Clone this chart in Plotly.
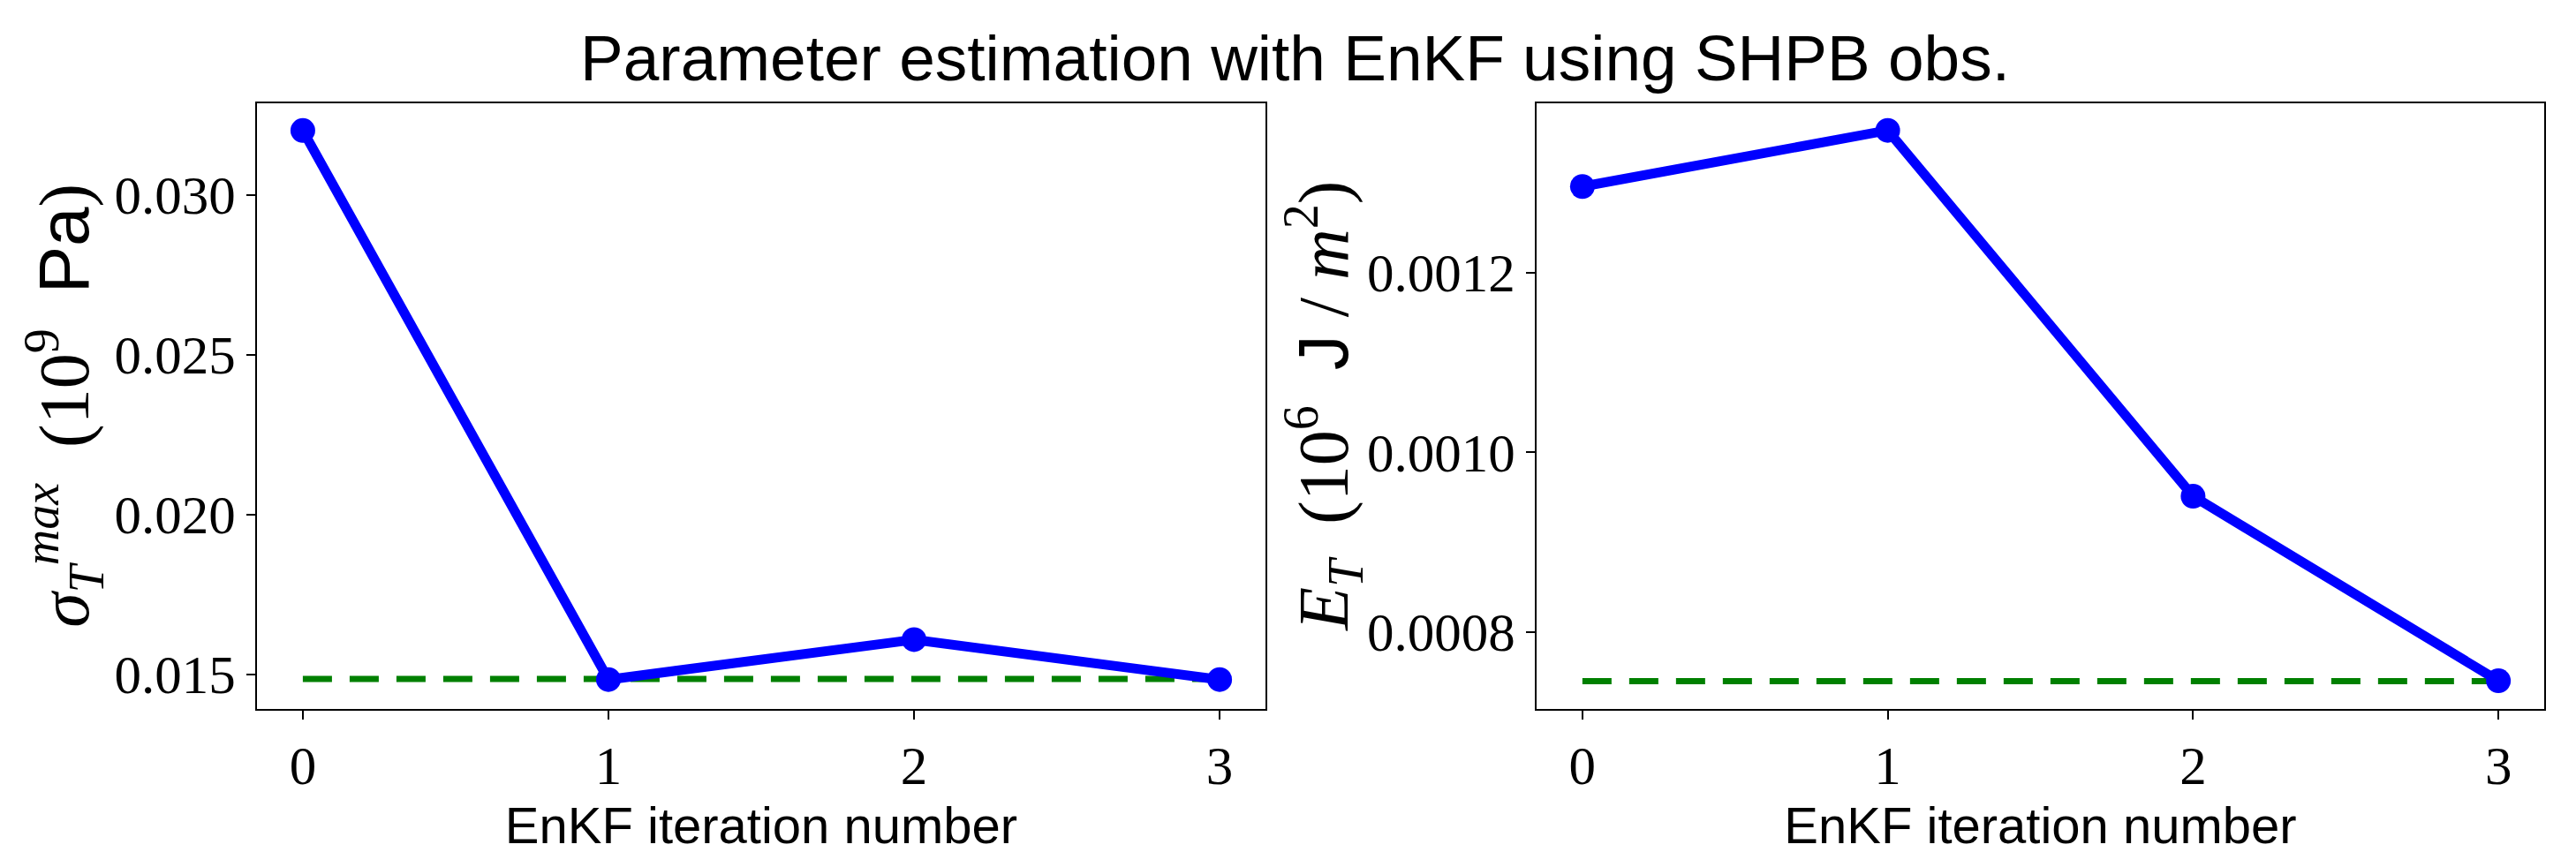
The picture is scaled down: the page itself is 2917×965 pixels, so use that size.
import plotly.graph_objects as go

iterations = [0, 1, 2, 3]
sigma_est = [0.03202, 0.01484, 0.01609, 0.01484]
sigma_true = [0.01486, 0.01486, 0.01486, 0.01486]
et_est = [0.001296, 0.0013585, 0.000951, 0.0007454]
et_true = [0.000745, 0.000745, 0.000745, 0.000745]

sigma_ticks = [0.015, 0.020, 0.025, 0.030]
et_ticks = [0.0008, 0.0010, 0.0012]
x_ticks = [0, 1, 2, 3]

W, H = 2917, 965
BLUE = "#0000ff"
GREEN = "#008000"
SERIF = "Liberation Serif, DejaVu Serif, serif"
SANS = "Liberation Sans, Arial, sans-serif"

fig = go.Figure()

def add_panel(xa, ya, est, true):
    fig.add_trace(go.Scatter(x=iterations, y=true, mode="lines", xaxis=xa, yaxis=ya,
                             line=dict(color=GREEN, width=7, dash="33px,20px"),
                             showlegend=False, hoverinfo="skip"))
    fig.add_trace(go.Scatter(x=iterations, y=est, mode="lines+markers", xaxis=xa, yaxis=ya,
                             line=dict(color=BLUE, width=11),
                             marker=dict(color=BLUE, size=28),
                             showlegend=False))

add_panel("x", "y", sigma_est, sigma_true)
add_panel("x2", "y2", et_est, et_true)

ydom = [1 - 795 / H, 1 - 108.7 / H]
axis_common = dict(showline=True, linecolor="black", linewidth=2, mirror=True,
                   ticks="outside", ticklen=10, tickwidth=2, tickcolor="black",
                   showgrid=False, zeroline=False,
                   tickfont=dict(family=SERIF, size=61, color="black"))

xtitle = dict(text="EnKF iteration number", font=dict(family=SANS, size=58, color="black"),
              standoff=14)

fig.update_layout(
    width=W, height=H,
    margin=dict(l=0, r=0, t=0, b=0),
    paper_bgcolor="white", plot_bgcolor="white",
    title=dict(text="Parameter estimation with EnKF using SHPB obs.",
               font=dict(family=SANS, size=73, color="black"),
               x=0.5, xanchor="center", xref="paper",
               y=1 - 57 / H, yanchor="middle", yref="container"),
    xaxis=dict(domain=[283 / W, 1425 / W], range=[-0.15, 3.15], tickvals=x_ticks,
               title=xtitle, anchor="y", **axis_common),
    yaxis=dict(domain=ydom, range=[0.01392, 0.03288], tickvals=sigma_ticks,
               tickformat=".3f", anchor="x", **axis_common),
    xaxis2=dict(domain=[1732 / W, 2873 / W], range=[-0.15, 3.15], tickvals=x_ticks,
                title=xtitle, anchor="y2", **axis_common),
    yaxis2=dict(domain=ydom, range=[0.000714, 0.001389], tickvals=et_ticks,
                tickformat=".4f", anchor="x2", **axis_common),
)

ymid = (ydom[0] + ydom[1]) / 2
fig.add_annotation(
    text=("<i>σ</i><sub><i>T</i></sub><sup><i>max</i></sup>  (10<sup>9</sup>  "
          "<span style='font-family:Liberation Sans, Arial, sans-serif'>Pa</span>)"),
    xref="paper", yref="paper", x=64 / W, y=ymid, xanchor="center", yanchor="middle",
    textangle=-90, showarrow=False, font=dict(family=SERIF, size=80, color="black"))
fig.add_annotation(
    text=("<i>E</i><sub><i>T</i></sub>  (10<sup>6</sup>  "
          "<span style='font-family:Liberation Sans, Arial, sans-serif'>J</span> / <i>m</i><sup>2</sup>)"),
    xref="paper", yref="paper", x=1490 / W, y=ymid, xanchor="center", yanchor="middle",
    textangle=-90, showarrow=False, font=dict(family=SERIF, size=80, color="black"))

fig.write_html("out.html")
